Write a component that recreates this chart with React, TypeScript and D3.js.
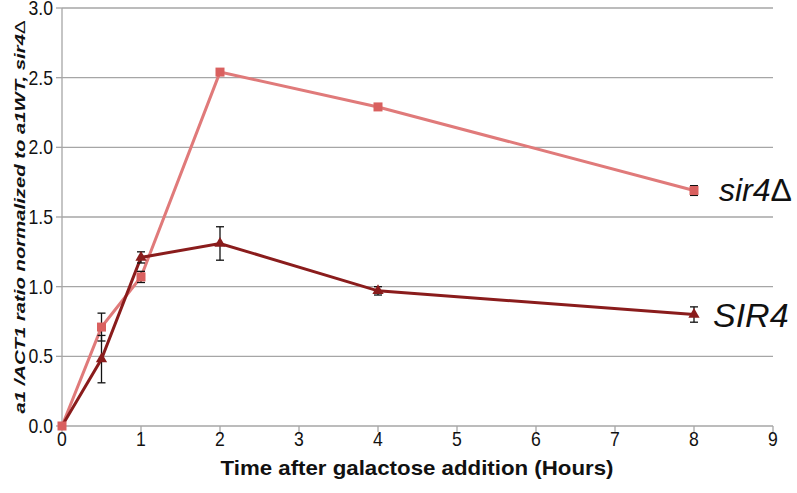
import React from "react";
import * as d3 from "d3";

const hours = [0, 0.5, 1, 2, 4, 8];
const sir4dValues = [0, 0.71, 1.07, 2.54, 2.29, 1.69];
const sir4dErrors = [0, 0.1, 0.04, 0.01, 0.01, 0.035];
const SIR4Values = [0, 0.48, 1.21, 1.31, 0.97, 0.8];
const SIR4Errors = [0, 0.17, 0.04, 0.12, 0.03, 0.055];
const xTicks = [0, 1, 2, 3, 4, 5, 6, 7, 8, 9];
const yTicks = [0, 0.5, 1.0, 1.5, 2.0, 2.5, 3.0];

const W = 797;
const H = 493;
const FONT = "'Liberation Sans', Arial, sans-serif";

export default function App() {
  const x = d3.scaleLinear().domain([0, 9]).range([62, 773]);
  const y = d3.scaleLinear().domain([0, 3]).range([426, 8]);
  const line = d3
    .line<[number, number]>()
    .x((d) => x(d[0]))
    .y((d) => y(d[1]));
  const sirD = hours.map((h, i) => [h, sir4dValues[i]] as [number, number]);
  const sir = hours.map((h, i) => [h, SIR4Values[i]] as [number, number]);
  const lightColor = "#E07A7A";
  const lightMarker = "#D9605F";
  const darkColor = "#8A1C1C";
  const tri = d3.symbol().type(d3.symbolTriangle).size(55)();

  const errBars = (vals: number[], errs: number[], key: string) =>
    hours.map((h, i) =>
      errs[i] > 0 ? (
        <g key={key + i} stroke="#111" strokeWidth={1.3}>
          <line x1={x(h)} x2={x(h)} y1={y(vals[i] - errs[i])} y2={y(vals[i] + errs[i])} />
          <line x1={x(h) - 4} x2={x(h) + 4} y1={y(vals[i] - errs[i])} y2={y(vals[i] - errs[i])} />
          <line x1={x(h) - 4} x2={x(h) + 4} y1={y(vals[i] + errs[i])} y2={y(vals[i] + errs[i])} />
        </g>
      ) : null
    );

  return (
    <svg width={W} height={H} style={{ position: "absolute", left: 0, top: 0, background: "#fff" }}>
      {yTicks.map((t) => (
        <g key={"y" + t}>
          {t > 0 && <line x1={x(0)} x2={x(9)} y1={y(t)} y2={y(t)} stroke="#A6A6A6" strokeWidth={1.3} />}
          <line x1={x(0) - 6} x2={x(0)} y1={y(t)} y2={y(t)} stroke="#A6A6A6" strokeWidth={1.3} />
          <text
            transform={`translate(53,${y(t) + 7}) scale(0.88,1)`}
            textAnchor="end"
            fontFamily={FONT}
            fontSize={20}
            fill="#111"
          >
            {d3.format(".1f")(t)}
          </text>
        </g>
      ))}
      <line x1={x(0)} x2={x(0)} y1={y(3)} y2={y(0)} stroke="#A6A6A6" strokeWidth={1.3} />
      <line x1={x(0)} x2={x(9)} y1={y(0)} y2={y(0)} stroke="#A6A6A6" strokeWidth={1.3} />
      {xTicks.map((t) => (
        <g key={"x" + t}>
          <line x1={x(t)} x2={x(t)} y1={y(0)} y2={y(0) + 6} stroke="#A6A6A6" strokeWidth={1.3} />
          <text
            transform={`translate(${x(t)},446) scale(0.88,1)`}
            textAnchor="middle"
            fontFamily={FONT}
            fontSize={20}
            fill="#111"
          >
            {t}
          </text>
        </g>
      ))}
      <path d={line(sirD) || ""} fill="none" stroke={lightColor} strokeWidth={3} />
      <path d={line(sir) || ""} fill="none" stroke={darkColor} strokeWidth={3} />
      {errBars(sir4dValues, sir4dErrors, "a")}
      {errBars(SIR4Values, SIR4Errors, "b")}
      {sirD.map((d, i) => (
        <rect key={"s" + i} x={x(d[0]) - 4.5} y={y(d[1]) - 4.5} width={9} height={9} fill={lightMarker} />
      ))}
      {sir.map((d, i) =>
        i === 0 ? null : (
          <path key={"t" + i} d={tri || ""} transform={`translate(${x(d[0])},${y(d[1])})`} fill={darkColor} />
        )
      )}
      <text x={719} y={201} fontFamily={FONT} fontStyle="italic" fontSize={32} fill="#111">
        sir4<tspan fontStyle="normal">Δ</tspan>
      </text>
      <text x={713} y={327} fontFamily={FONT} fontStyle="italic" fontSize={34} fill="#111">
        SIR4
      </text>
      <text
        x={417}
        y={475}
        textAnchor="middle"
        fontFamily={FONT}
        fontWeight="bold"
        fontSize={21}
        textLength={393}
        lengthAdjust="spacingAndGlyphs"
        fill="#111"
      >
        Time after galactose addition (Hours)
      </text>
      <text
        transform="translate(25,217) rotate(-90)"
        textAnchor="middle"
        fontFamily={FONT}
        fontWeight="bold"
        fontStyle="italic"
        fontSize={15}
        textLength={393}
        lengthAdjust="spacingAndGlyphs"
        fill="#111"
      >
        a1 /ACT1 ratio normalized to a1WT, sir4<tspan fontWeight="normal" fontStyle="normal">Δ</tspan>
      </text>
    </svg>
  );
}
